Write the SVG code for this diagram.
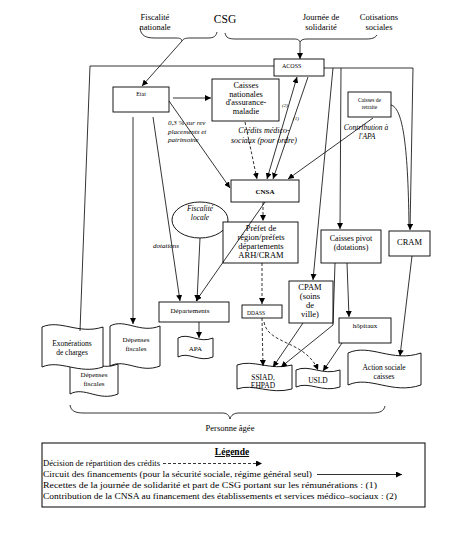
<svg xmlns="http://www.w3.org/2000/svg" width="464" height="534" viewBox="0 0 464 534">
<style>
text{font-family:"Liberation Serif","Times New Roman",serif;fill:#000}
.c{text-anchor:middle}
.i{font-style:italic}
.b{fill:#fff;stroke:#000;stroke-width:0.9}
.l{fill:none;stroke:#000;stroke-width:0.8}
.d{fill:none;stroke:#000;stroke-width:0.8;stroke-dasharray:3,2}
.a{marker-end:url(#ah)}
</style>
<defs>
<marker id="ah" viewBox="0 0 6 6" refX="6" refY="3" markerWidth="6" markerHeight="6" markerUnits="userSpaceOnUse" orient="auto"><path d="M0,0 L6,3 L0,6 z" fill="#000"/></marker>
<marker id="as" viewBox="0 0 6 6" refX="6" refY="3" markerWidth="6" markerHeight="6" markerUnits="userSpaceOnUse" orient="auto-start-reverse"><path d="M0,0 L6,3 L0,6 z" fill="#000"/></marker>
</defs>
<rect width="464" height="534" fill="#fff"/>

<g id="sources">
<text class="c" x="155" y="20" font-size="8.5">Fiscalité</text>
<text class="c" x="155" y="30" font-size="8.5">nationale</text>
<text class="c" x="225" y="23" font-size="11.5">CSG</text>
<text class="c" x="321" y="20" font-size="8.5">Journée de</text>
<text class="c" x="321" y="30" font-size="8.5">solidarité</text>
<text class="c" x="379" y="20" font-size="8.5">Cotisations</text>
<text class="c" x="379" y="30" font-size="8.5">sociales</text>
</g>

<g id="node-etat"><rect class="b" x="113" y="87" width="56" height="25"/><text class="c" x="141" y="96" font-size="6">Etat</text></g>
<g id="node-acoss"><rect class="b" x="274" y="59" width="50" height="17"/><text x="282" y="68" font-size="6">ACOSS</text></g>
<g id="node-cnam"><rect class="b" x="212" y="79" width="67" height="42"/>
<text class="c" x="246" y="88" font-size="8.3">Caisses</text>
<text class="c" x="246" y="96.5" font-size="8.3">nationales</text>
<text class="c" x="246" y="105" font-size="8.3">d'assurance-</text>
<text class="c" x="246" y="113.5" font-size="8.3">maladie</text></g>
<g id="node-retraite"><rect class="b" x="348" y="92" width="43" height="25"/>
<text class="c" x="369.5" y="102" font-size="5.5">Caisses de</text>
<text class="c" x="369.5" y="109" font-size="5.5">retraite</text></g>
<g id="node-cnsa"><rect class="b" x="231" y="180" width="68" height="22"/><text class="c" x="265" y="194" font-size="7" font-weight="bold">CNSA</text></g>
<g id="node-fiscalite-locale"><ellipse class="b" cx="200" cy="220" rx="28" ry="18"/>
<text class="c i" x="200" y="211" font-size="7.5">Fiscalité</text>
<text class="c i" x="200" y="220" font-size="7.5">locale</text></g>
<g id="node-prefet"><rect class="b" x="223" y="222" width="75" height="41"/>
<text class="c" x="261" y="231" font-size="8.5">Préfet de</text>
<text class="c" x="261" y="240" font-size="8.5">région/préfets</text>
<text class="c" x="261" y="249" font-size="8.5">départements</text>
<text class="c" x="261" y="258" font-size="8.5">ARH/CRAM</text></g>
<g id="node-departements"><rect class="b" x="159" y="302" width="70" height="20"/><text class="c" x="190" y="313" font-size="7">Départements</text></g>
<g id="node-apa"><path class="b" d="M178,338 C188.5,332 199,344 213,338 L213,357 C199,363 188.5,351 178,357 Z"/><text class="c" x="195.5" y="351" font-size="7">APA</text></g>
<g id="node-depenses-fiscales-2"><path class="b" d="M70,364 C84.4,356 98.8,372 118,364 L118,394 C98.8,402 84.4,386 70,394 Z"/>
<text class="c" x="94" y="377" font-size="7">Dépenses</text>
<text class="c" x="94" y="386" font-size="7">fiscales</text></g>
<g id="node-exonerations"><path class="b" d="M42,327 C60.3,319 78.6,335 103,327 L103,367 C78.6,375 60.3,359 42,367 Z"/>
<text class="c" x="72" y="346" font-size="7.5">Exonérations</text>
<text class="c" x="72" y="355" font-size="7.5">de charges</text></g>
<g id="node-depenses-fiscales"><path class="b" d="M110,326 C125,318 140,334 160,326 L160,366 C140,374 125,358 110,366 Z"/>
<text class="c" x="136" y="342" font-size="7">Dépenses</text>
<text class="c" x="136" y="351" font-size="7">fiscales</text></g>
<g id="node-ddass"><rect class="b" x="242" y="305" width="40" height="13"/><text x="247" y="314.5" font-size="5.5">DDASS</text></g>
<g id="node-cpam"><rect class="b" x="289" y="281" width="44" height="42"/>
<text class="c" x="310" y="290" font-size="8.5">CPAM</text>
<text class="c" x="310" y="299" font-size="8.5">(soins</text>
<text class="c" x="310" y="308" font-size="8.5">de</text>
<text class="c" x="310" y="317" font-size="8.5">ville)</text></g>
<g id="node-caisses-pivot"><rect class="b" x="321" y="230" width="60" height="33"/>
<text class="c" x="351" y="241" font-size="8">Caisses pivot</text>
<text class="c" x="351" y="250" font-size="8">(dotations)</text></g>
<g id="node-cram"><rect class="b" x="389" y="231" width="41" height="25"/><text class="c" x="409.5" y="245" font-size="8.5">CRAM</text></g>
<g id="node-hopitaux"><rect class="b" x="339" y="318" width="52" height="25"/><text class="c" x="365" y="328" font-size="7">hôpitaux</text></g>
<g id="node-ssiad"><path class="b" d="M237,365 C253.5,359 270,371 292,365 L292,389 C270,395 253.5,383 237,389 Z"/>
<text class="c" x="263" y="380" font-size="7.5">SSIAD,</text>
<text class="c" x="263" y="388" font-size="7.5">EHPAD</text></g>
<g id="node-usld"><path class="b" d="M296,370 C309.2,364 322.4,376 340,370 L340,387 C322.4,393 309.2,381 296,387 Z"/><text class="c" x="318" y="383" font-size="7.5">USLD</text></g>
<g id="node-action-sociale"><path class="b" d="M348,353 C369.9,343 391.8,363 421,353 L421,385 C391.8,395 369.9,375 348,385 Z"/>
<text class="c" x="384" y="370" font-size="7.5">Action sociale</text>
<text class="c" x="384" y="378.5" font-size="7.5">caisses</text></g>

<g id="connectors">
<path class="l" d="M140,28 C141,36 146,38 155,38 L176,38 C180,38 182,39 182,41 C183,39 185,38 190,38 L208,38 C214,38 216,36 217,32"/>
<path class="l" d="M225,33 C226,38 229,39 236,39 L294,39 C298,39 299,40 300,42 C301,40 303,39 307,39 L366,39 C372,39 375,38 377,35"/>
<line class="l a" x1="182" y1="41" x2="142" y2="86"/>
<line class="l a" x1="300" y1="42" x2="300" y2="59"/>
<polyline class="l" points="80,331 90,66 274,66"/>
<polyline class="l a" points="324,68 413,68 410,230"/>
<line class="l a" x1="333" y1="68" x2="313" y2="280"/>
<line class="l a" x1="341" y1="68" x2="340" y2="229"/>
<path class="l" d="M391,105 C402,108 408,140 409,226"/>
<line class="l a" x1="373" y1="118" x2="288" y2="179"/>
<line class="l a" x1="173" y1="98" x2="211" y2="98"/>
<line class="l a" x1="169" y1="101" x2="230" y2="188"/>
<line class="d a" x1="245" y1="122" x2="257" y2="179"/>
<line class="l a" x1="267" y1="179" x2="297" y2="77" marker-start="url(#as)"/>
<line class="l a" x1="308" y1="77" x2="273" y2="179"/>
<line class="d a" x1="263" y1="202" x2="263" y2="221"/>
<line class="l a" x1="265" y1="202" x2="196" y2="301"/>
<line class="l a" x1="200" y1="238" x2="197" y2="301"/>
<line class="l a" x1="153" y1="117" x2="180" y2="301"/>
<line class="l a" x1="133" y1="117" x2="133" y2="324"/>
<line class="l a" x1="199" y1="322" x2="199" y2="338"/>
<line class="d a" x1="262" y1="263" x2="262" y2="304"/>
<line class="d a" x1="262" y1="318" x2="263" y2="366"/>
<path class="d a" d="M264,322 C268,345 305,340 318,370"/>
<line class="l a" x1="303" y1="323" x2="273" y2="367"/>
<polyline class="l a" points="335,263 333,325 281,367"/>
<line class="l a" x1="347" y1="263" x2="349" y2="317"/>
<line class="l a" x1="342" y1="343" x2="323" y2="371"/>
<line class="l a" x1="412" y1="256" x2="400" y2="356"/>
<path class="l" d="M70,405 C71,411 75,413 84,413 L222,413 C227,413 229,415 230,419 C231,415 234,413 239,413 L372,413 C380,413 384,411 385,406"/>
</g>

<g id="connector-labels">
<text class="i" x="168" y="125" font-size="7">0,3 % sur rev</text>
<text class="i" x="168" y="133.5" font-size="7">placements et</text>
<text class="i" x="168" y="142" font-size="7">patrimoine</text>
<text class="c i" x="264" y="133" font-size="8">Crédits médico-</text>
<text class="c i" x="264" y="142.5" font-size="8">sociaux (pour ordre)</text>
<text class="c i" x="366" y="130" font-size="7.5">Contribution à</text>
<text class="c i" x="367" y="139" font-size="7.5">l'APA</text>
<text class="i" x="282" y="107" font-size="5">(2)</text>
<text class="i" x="293" y="120" font-size="5">(1)</text>
<text class="i" x="153" y="248" font-size="7">dotations</text>
<text class="c" x="230" y="431" font-size="8.5">Personne âgée</text>
</g>

<g id="legend">
<rect x="42" y="443" width="383" height="64" fill="none" stroke="#000" stroke-width="1"/>
<text class="c" x="232" y="455" font-size="9.5" font-weight="bold" text-decoration="underline">Légende</text>
<text x="43" y="466" font-size="8.6" textLength="117" lengthAdjust="spacingAndGlyphs">Décision de répartition des crédits</text>
<line class="d a" x1="163" y1="463.5" x2="262" y2="463.5"/>
<text x="43" y="477" font-size="8.6" textLength="269" lengthAdjust="spacingAndGlyphs">Circuit des financements (pour la sécurité sociale, régime général seul)</text>
<line class="l a" x1="317" y1="474.5" x2="402" y2="474.5"/>
<text x="43" y="488" font-size="8.6" textLength="334" lengthAdjust="spacingAndGlyphs">Recettes de la journée de solidarité et part de CSG portant sur les rémunérations : (1)</text>
<text x="43" y="499" font-size="8.6" textLength="354" lengthAdjust="spacingAndGlyphs">Contribution de la CNSA au financement des établissements et services médico–sociaux : (2)</text>
</g>
</svg>
